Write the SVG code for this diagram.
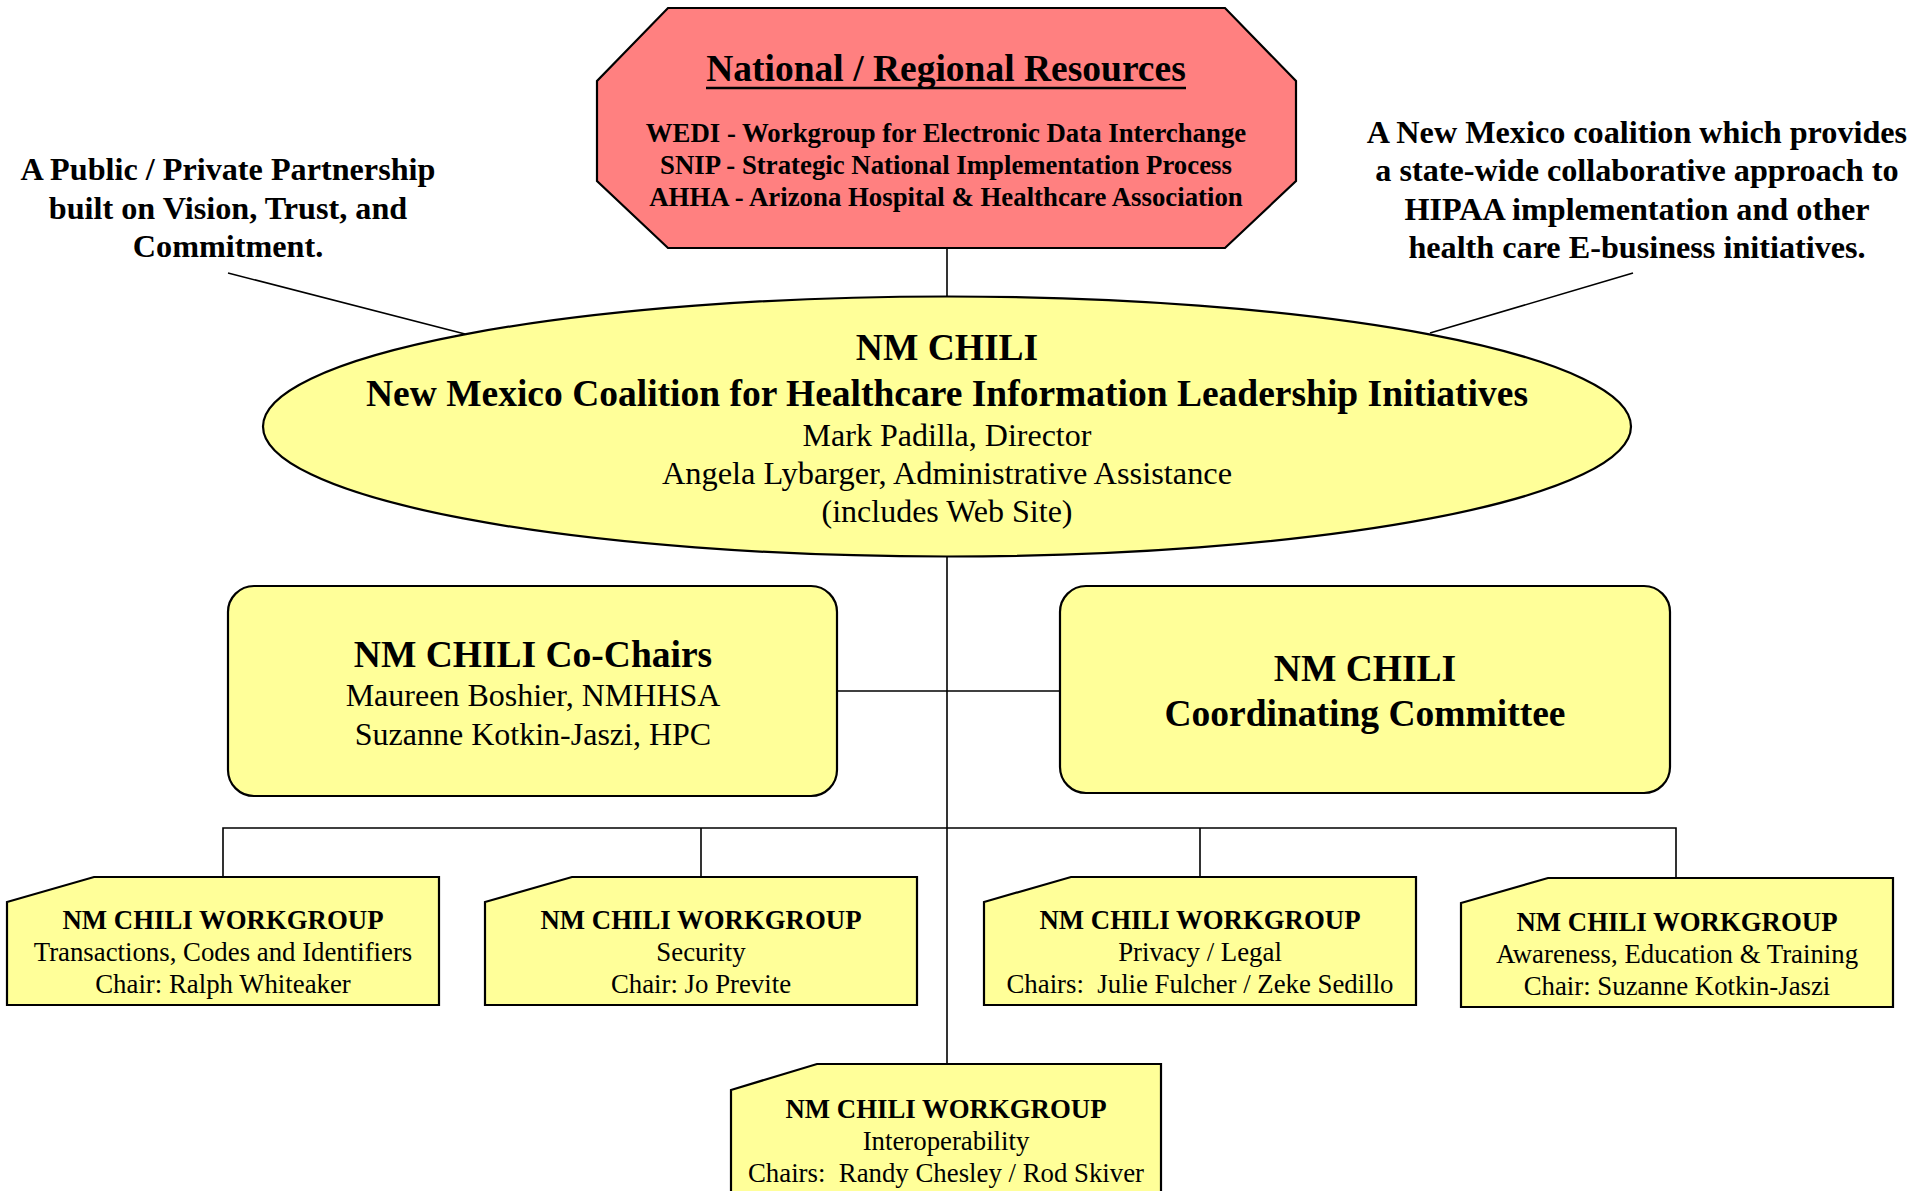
<svg xmlns="http://www.w3.org/2000/svg" width="1927" height="1191" viewBox="0 0 1927 1191">
<style>
text{font-family:"Liberation Serif","Times New Roman",serif;fill:#000;text-anchor:middle}
.b{font-weight:bold}
.shape{stroke:#000;stroke-width:2.2}
.yel{fill:#FFFF99}
.con{stroke:#000;stroke-width:1.6;fill:none}
</style>
<rect width="1927" height="1191" fill="#fff"/>
<g id="connectors">
<line class="con" x1="228" y1="273" x2="465" y2="334"/>
<line class="con" x1="1633" y1="273" x2="1430" y2="333"/>
<line class="con" x1="947" y1="248" x2="947" y2="297"/>
<line class="con" x1="947" y1="556" x2="947" y2="1064"/>
<line class="con" x1="838" y1="691" x2="1060" y2="691"/>
<polyline class="con" points="223,877 223,828 1676,828 1676,878"/>
<line class="con" x1="701" y1="828" x2="701" y2="877"/>
<line class="con" x1="1200" y1="828" x2="1200" y2="877"/>
</g>
<g id="note-left">
<text class="b" font-size="32.2" x="228" y="180">A Public / Private Partnership</text>
<text class="b" font-size="32.2" x="228" y="219">built on Vision, Trust, and</text>
<text class="b" font-size="32.2" x="228" y="257">Commitment.</text>
</g>
<g id="note-right">
<text class="b" font-size="32.2" x="1637" y="143">A New Mexico coalition which provides</text>
<text class="b" font-size="32.2" x="1637" y="181">a state-wide collaborative approach to</text>
<text class="b" font-size="32.2" x="1637" y="220">HIPAA implementation and other</text>
<text class="b" font-size="32.2" x="1637" y="258">health care E-business initiatives.</text>
</g>
<g id="national">
<polygon class="shape" fill="#FF8080" points="668,8 1225,8 1296,81 1296,181 1225,248 668,248 597,181 597,81"/>
<text class="b" font-size="37.5" x="946" y="81">National / Regional Resources</text>
<line x1="706" y1="88" x2="1186" y2="88" stroke="#000" stroke-width="2.5"/>
<text class="b" font-size="26.8" x="946" y="142">WEDI - Workgroup for Electronic Data Interchange</text>
<text class="b" font-size="26.8" x="946" y="174">SNIP - Strategic National Implementation Process</text>
<text class="b" font-size="26.8" x="946" y="206">AHHA - Arizona Hospital &amp; Healthcare Association</text>
</g>
<g id="nmchili">
<ellipse class="shape yel" cx="947" cy="426.5" rx="684" ry="130"/>
<text class="b" font-size="37.5" x="947" y="360">NM CHILI</text>
<text class="b" font-size="37.5" x="947" y="406">New Mexico Coalition for Healthcare Information Leadership Initiatives</text>
<text font-size="32" x="947" y="446">Mark Padilla, Director</text>
<text font-size="32.4" x="947" y="484">Angela Lybarger, Administrative Assistance</text>
<text font-size="32" x="947" y="522">(includes Web Site)</text>
</g>
<g id="cochairs">
<rect class="shape yel" x="228" y="586" width="609" height="210" rx="26"/>
<text class="b" font-size="37.5" x="533" y="667">NM CHILI Co-Chairs</text>
<text font-size="32" x="533" y="706">Maureen Boshier, NMHHSA</text>
<text font-size="32" x="533" y="745">Suzanne Kotkin-Jaszi, HPC</text>
</g>
<g id="coordinating">
<rect class="shape yel" x="1060" y="586" width="610" height="207" rx="26"/>
<text class="b" font-size="37.5" x="1365" y="681">NM CHILI</text>
<text class="b" font-size="37.5" x="1365" y="726">Coordinating Committee</text>
</g>
<g id="wg1">
<polygon class="shape yel" points="94,877 439,877 439,1005 7,1005 7,902"/>
<text class="b" font-size="26.8" x="223" y="929">NM CHILI WORKGROUP</text>
<text font-size="26.8" x="223" y="961">Transactions, Codes and Identifiers</text>
<text font-size="26.8" x="223" y="993">Chair: Ralph Whiteaker</text>
</g>
<g id="wg2">
<polygon class="shape yel" points="572,877 917,877 917,1005 485,1005 485,902"/>
<text class="b" font-size="26.8" x="701" y="929">NM CHILI WORKGROUP</text>
<text font-size="26.8" x="701" y="961">Security</text>
<text font-size="26.8" x="701" y="993">Chair: Jo Previte</text>
</g>
<g id="wg3">
<polygon class="shape yel" points="1071,877 1416,877 1416,1005 984,1005 984,902"/>
<text class="b" font-size="26.8" x="1200" y="929">NM CHILI WORKGROUP</text>
<text font-size="26.8" x="1200" y="961">Privacy / Legal</text>
<text font-size="26.8" x="1200" y="993" xml:space="preserve">Chairs:  Julie Fulcher / Zeke Sedillo</text>
</g>
<g id="wg4">
<polygon class="shape yel" points="1548,878 1893,878 1893,1007 1461,1007 1461,903"/>
<text class="b" font-size="26.8" x="1677" y="931">NM CHILI WORKGROUP</text>
<text font-size="26.8" x="1677" y="963">Awareness, Education &amp; Training</text>
<text font-size="26.8" x="1677" y="995">Chair: Suzanne Kotkin-Jaszi</text>
</g>
<g id="wg5">
<polygon class="shape yel" points="817,1064 1161,1064 1161,1200 731,1200 731,1090"/>
<text class="b" font-size="26.8" x="946" y="1118">NM CHILI WORKGROUP</text>
<text font-size="26.8" x="946" y="1150">Interoperability</text>
<text font-size="26.8" x="946" y="1182" xml:space="preserve">Chairs:  Randy Chesley / Rod Skiver</text>
</g>
</svg>
